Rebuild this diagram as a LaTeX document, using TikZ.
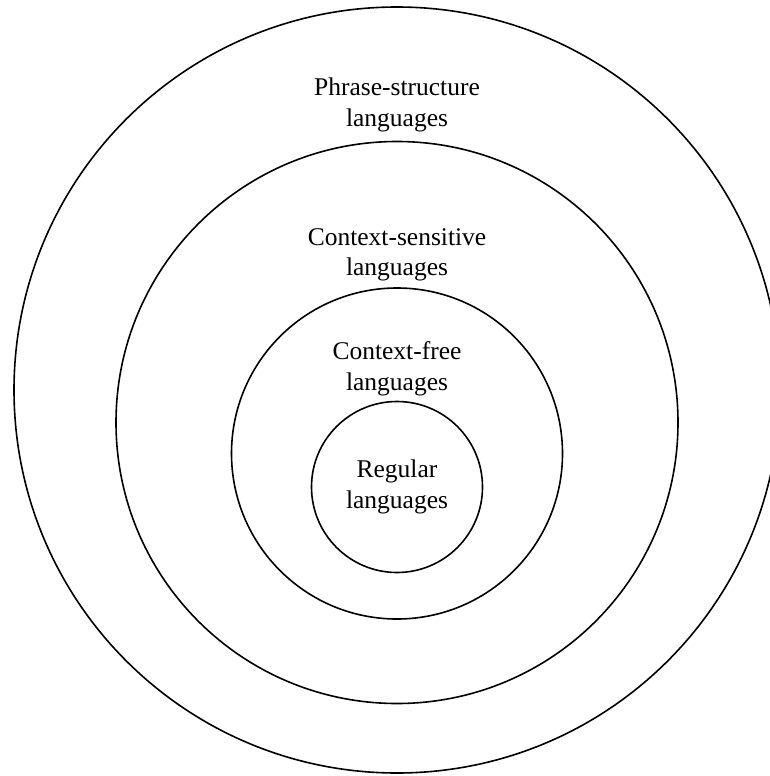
\documentclass[tikz,border=0pt]{standalone}
\usepackage{fontspec}
\setmainfont{Liberation Serif}
\begin{document}
\begin{tikzpicture}[x=1pt,y=-1pt,
  ring/.style={circle,draw=black,line width=1.6pt,inner sep=0pt},
  lbl/.style={align=center,anchor=base,inner sep=0pt,font=\fontsize{25.5pt}{30.5pt}\selectfont}]
\useasboundingbox (0,0) rectangle (770,776);
\clip (0,0) rectangle (770,776);
\fill[white] (0,0) rectangle (770,776);
\node[ring,minimum size=766pt] (ps) at (397,390) {};
\node[ring,minimum size=562pt] (cs) at (397,422.5) {};
\node[ring,minimum size=331pt] (cf) at (397,453.5) {};
\node[ring,minimum size=171pt] (rg) at (397,487) {};
\node[lbl] (pst) at (397,126) {Phrase-structure\\languages};
\node[lbl] (cst) at (397,275.5) {Context-sensitive\\languages};
\node[lbl] (cft) at (397,390) {Context-free\\languages};
\node[lbl] (rgt) at (397,508) {Regular\\languages};
\end{tikzpicture}
\end{document}
